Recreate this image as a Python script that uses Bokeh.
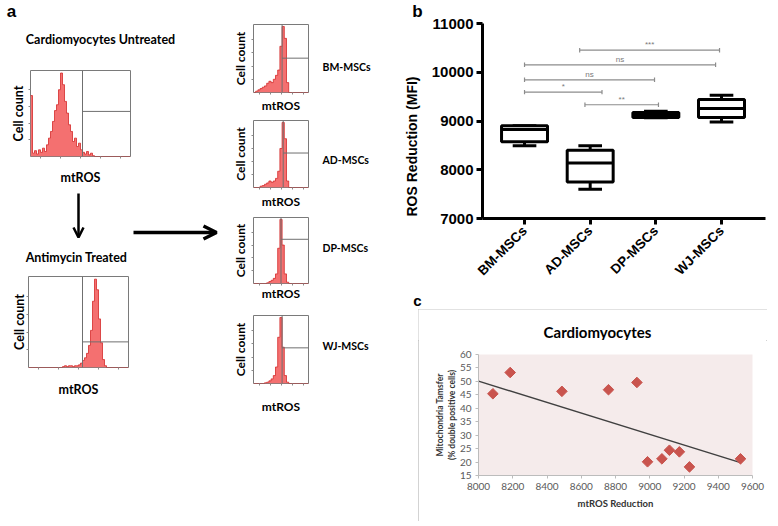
import math
import numpy as np
from bokeh.plotting import figure
from bokeh.layouts import row, column
from bokeh.models import Range1d, FixedTicker, Arrow, OpenHead, Spacer
from bokeh.core.properties import value
from bokeh.embed import file_html
from bokeh.resources import INLINE

# ---------------- data ----------------
# panel a: flow-cytometry histograms (relative cell count per bin across the mtROS axis)
untreated_counts = [0.73, 0.04, 0.07, 0.03, 0.08, 0.05, 0.10, 0.06, 0.14, 0.22,
                    0.30, 0.42, 0.55, 0.62, 0.80, 1.00, 0.86, 0.66, 0.52, 0.38,
                    0.30, 0.18, 0.22, 0.12, 0.16, 0.08, 0.05, 0.03, 0.06, 0.02,
                    0.04, 0.01, 0, 0, 0, 0, 0, 0, 0, 0,
                    0, 0, 0, 0, 0, 0, 0, 0, 0, 0]
antimycin_counts = [0, 0, 0, 0, 0, 0, 0, 0, 0, 0,
                    0, 0, 0, 0, 0, 0, 0, 0.01, 0.02, 0.01,
                    0.02, 0.02, 0.01, 0.02, 0.02, 0.03, 0.05, 0.08, 0.11, 0.16,
                    0.25, 0.42, 0.75, 1.00, 0.88, 0.55, 0.28, 0.09, 0.02, 0,
                    0, 0, 0, 0, 0, 0, 0, 0, 0, 0]
untreated_gate = [0.52, 0.54]
antimycin_gate = [0.54, 0.29]

msc_names = ["BM-MSCs", "AD-MSCs", "DP-MSCs", "WJ-MSCs"]
bm_counts = [0, 0.02, 0.04, 0.06, 0.08, 0.10, 0.14, 0.17, 0.15, 0.20, 0.26, 0.34, 0.70,
             1.00, 0.82, 0.15, 0, 0, 0, 0, 0, 0, 0, 0, 0]
ad_counts = [0, 0, 0, 0.02, 0.03, 0.05, 0.07, 0.10, 0.08, 0.10, 0.14, 0.25, 0.60,
             1.00, 0.75, 0.10, 0, 0, 0, 0, 0, 0, 0, 0, 0]
dp_counts = [0, 0, 0, 0, 0, 0, 0.01, 0.03, 0.05, 0.08, 0.15, 0.55, 1.00,
             0.60, 0.15, 0.02, 0, 0, 0, 0, 0, 0, 0, 0, 0]
wj_counts = [0, 0, 0, 0, 0, 0.01, 0.02, 0.04, 0.07, 0.12, 0.25, 0.70, 1.00,
             0.55, 0.12, 0.02, 0, 0, 0, 0, 0, 0, 0, 0, 0]
small_gate_x = [0.52, 0.54, 0.50, 0.52]
small_gate_y = [0.52, 0.53, 0.69, 0.54]

# panel b: box plot of ROS reduction (MFI)
box_lower = [8490, 7601, 9065, 8981]
box_q1 = [8572, 7751, 9070, 9070]
box_median = [8825, 8141, 9118, 9256]
box_q3 = [8901, 8401, 9174, 9440]
box_upper = [8905, 8490, 9201, 9529]
b_yticks = [7000, 8000, 9000, 10000, 11000]

sig_x0 = [0.84, 0.0, 0.0, 0.0, 0.92]
sig_x1 = [2.97, 2.91, 1.98, 1.18, 2.04]
sig_y = [10452, 10153, 9845, 9593, 9333]
sig_text = ["***", "ns", "ns", "*", "**"]

# panel c: scatter with trend line
mtros_reduction = [8084, 8185, 8487, 8759, 8925, 8987, 9071, 9115, 9173, 9232, 9530]
mito_transfer = [45.4, 53.3, 46.3, 46.9, 49.6, 20.1, 21.2, 24.4, 23.8, 18.2, 21.2]
trend_x = [8000, 9530]
trend_y = [50.1, 19.8]
c_xticks = [8000, 8200, 8400, 8600, 8800, 9000, 9200, 9400, 9600]
c_yticks = [15, 20, 25, 30, 35, 40, 45, 50, 55, 60]

# ---------------- styles ----------------
FILL = "#f47070"
EDGE = "#d42a2a"
LATO = "Lato"
ARIAL = "Liberation Sans"


def base_fig(w, h, bl, br, bt, bb, xr, yr, **kw):
    p = figure(width=w, height=h, x_range=xr, y_range=yr,
               output_backend="svg", toolbar_location=None, frame_align=False,
               min_border_left=bl, min_border_right=br,
               min_border_top=bt, min_border_bottom=bb, **kw)
    p.grid.visible = False
    p.background_fill_color = "white"
    p.border_fill_color = "white"
    return p


def canvas(w, h, x0, y0):
    """A blank drawing area whose frame fills the whole figure (picture-pixel ranges)."""
    p = figure(width=w, height=h, x_range=Range1d(x0, x0 + w), y_range=Range1d(y0 + h, y0),
               x_axis_type=None, y_axis_type=None, output_backend="svg",
               toolbar_location=None, frame_align=False, min_border_left=0,
               min_border_right=0, min_border_top=0, min_border_bottom=0)
    p.grid.visible = False
    p.outline_line_color = None
    p.background_fill_color = "white"
    p.border_fill_color = "white"
    return p


def ctext(p, x, y, text, size, font=LATO, bold=True, color="black",
          align="center", angle=0.0):
    p.text(x=[x], y=[y], text=[text], text_font=value(font), text_font_size=value(size),
           text_font_style="bold" if bold else "normal", text_color=color,
           text_align=align, text_baseline="middle", angle=angle)


def hist_fig(w, h, ref_left, ref_top, frame_left, frame_top, fw, fh, counts, gx, gy,
             ylab_standoff, xlab_standoff, lab_size="12.5px"):
    bl = frame_left - ref_left
    bt = frame_top - ref_top
    p = base_fig(w, h, bl, w - bl - fw, bt, h - bt - fh, Range1d(0, 1), Range1d(0, 1.03))
    n = len(counts)
    edges = np.linspace(0, 1, n + 1)
    c = np.append(np.array(counts, dtype=float), 0.0)
    p.varea_step(x=edges, y1=np.zeros(n + 1), y2=c, step_mode="after", fill_color=FILL)
    p.step(x=edges, y=c, mode="after", line_color=EDGE, line_width=0.8)
    p.segment(x0=[gx, gx], y0=[0, gy], x1=[gx, 1], y1=[1.03, gy],
              line_color="#6f6f6f", line_width=1)
    p.xaxis.ticker = FixedTicker(ticks=[0.1, 0.3, 0.5, 0.7, 0.9])
    p.yaxis.ticker = FixedTicker(ticks=[0.2, 0.4, 0.6, 0.8])
    p.axis.major_label_text_font_size = "1px"
    p.axis.major_label_text_color = None
    p.axis.major_label_standoff = 0
    p.axis.axis_line_color = None
    p.axis.major_tick_in = 0
    p.axis.major_tick_out = 2
    p.axis.major_tick_line_color = "#8a8a8a"
    p.axis.minor_tick_line_color = None
    p.outline_line_color = "#7a7a7a"
    p.yaxis.axis_label = "Cell count"
    p.xaxis.axis_label = "mtROS"
    p.axis.axis_label_text_font = LATO
    p.axis.axis_label_text_font_style = "bold"
    p.axis.axis_label_text_font_size = lab_size
    p.axis.axis_label_text_color = "black"
    p.yaxis.axis_label_standoff = ylab_standoff
    p.xaxis.axis_label_standoff = xlab_standoff
    return p


# ---------------- panel a, left column ----------------
top_a = canvas(220, 62, 0, 0)
ctext(top_a, 11, 11, "a", "17px", font=ARIAL)
ctext(top_a, 100, 39, "Cardiomyocytes Untreated", "12.5px")

a1 = hist_fig(220, 128, 0, 62, 30, 70, 100, 86, untreated_counts, *untreated_gate,
              ylab_standoff=3, xlab_standoff=11)

arr = canvas(220, 80, 0, 190)
arr.add_layout(Arrow(end=OpenHead(size=10, line_width=2.5), x_start=78, y_start=193,
                     x_end=78, y_end=237, line_width=2.5))
arr.add_layout(Arrow(end=OpenHead(size=13, line_width=3.5), x_start=133, y_start=232,
                     x_end=216, y_end=232, line_width=3.5))
ctext(arr, 76, 257, "Antimycin Treated", "12.5px")

a2 = hist_fig(220, 252, 0, 270, 28, 276, 100, 91, antimycin_counts, *antimycin_gate,
              ylab_standoff=0, xlab_standoff=12)

col_a = column(top_a, a1, arr, a2)

# ---------------- panel a, MSC histograms ----------------
small_counts = [bm_counts, ad_counts, dp_counts, wj_counts]
fig_tops = [0, 116, 211, 303]
fig_heights = [116, 95, 92, 219]
frame_tops = [24, 120, 217, 315]
xlab_standoffs = [3, 4, 0, 13]
name_y = [66, 159, 247, 345]
small_figs = []
for i in range(4):
    p = hist_fig(95, fig_heights[i], 220, fig_tops[i], 253, frame_tops[i], 55, 68,
                 small_counts[i], small_gate_x[i], small_gate_y[i],
                 ylab_standoff=4, xlab_standoff=xlab_standoffs[i], lab_size="12px")
    small_figs.append(p)

names_canvas = canvas(88, 522, 315, 0)
for i in range(4):
    ctext(names_canvas, 322, name_y[i], msc_names[i], "10.5px", align="left")

col_b = row(column(*small_figs), names_canvas)

# ---------------- panel b: box plot ----------------
strip = canvas(23, 309, 403, 0)
ctext(strip, 417, 11, "b", "17px", font=ARIAL)
ctext(strip, 411, 146, "ROS Reduction (MFI)", "14px", font=ARIAL, angle=math.pi / 2)
ctext(strip, 417, 300, "c", "15px", font=ARIAL)

pb = base_fig(352, 309, 56, 13, 23, 91, Range1d(-0.64, 3.67), Range1d(7000, 11000))
xs = np.arange(len(msc_names))
sx0 = np.array(sig_x0)
sx1 = np.array(sig_x1)
sy = np.array(sig_y, dtype=float)
pb.segment(x0=sx0, y0=sy, x1=sx1, y1=sy, line_color="#8c8c8c", line_width=1.2)
pb.segment(x0=sx0, y0=sy - 45, x1=sx0, y1=sy + 45, line_color="#8c8c8c", line_width=1.2)
pb.segment(x0=sx1, y0=sy - 45, x1=sx1, y1=sy + 45, line_color="#8c8c8c", line_width=1.2)
pb.text(x=(sx0 + sx1) / 2, y=sy, text=sig_text, text_align="center", text_baseline="bottom",
        y_offset=-1, text_font_size="8px", text_color="#7a7a7a", text_font=value(ARIAL))

pb.segment(x0=xs, y0=box_q3, x1=xs, y1=box_upper, line_color="black", line_width=3)
pb.segment(x0=xs, y0=box_lower, x1=xs, y1=box_q1, line_color="black", line_width=3)
pb.segment(x0=xs - 0.18, y0=box_upper, x1=xs + 0.18, y1=box_upper, line_color="black", line_width=3)
pb.segment(x0=xs - 0.18, y0=box_lower, x1=xs + 0.18, y1=box_lower, line_color="black", line_width=3)
pb.quad(left=xs - 0.35, right=xs + 0.35, bottom=box_q1, top=box_q3,
        fill_color="white", line_color="black", line_width=3)
pb.segment(x0=xs - 0.35, y0=box_median, x1=xs + 0.35, y1=box_median, line_color="black", line_width=3)

pb.yaxis.ticker = FixedTicker(ticks=b_yticks)
pb.xaxis.ticker = FixedTicker(ticks=list(xs))
pb.xaxis.major_label_overrides = {int(i): n for i, n in zip(xs, msc_names)}
pb.xaxis.major_label_orientation = math.pi / 4
pb.axis.major_label_text_font = ARIAL
pb.axis.major_label_text_font_style = "bold"
pb.axis.major_label_text_color = "black"
pb.yaxis.major_label_text_font_size = "15px"
pb.xaxis.major_label_text_font_size = "13.5px"
pb.axis.axis_line_width = 3
pb.axis.axis_line_color = "black"
pb.axis.major_tick_line_width = 3
pb.axis.major_tick_line_color = "black"
pb.axis.major_tick_out = 6
pb.axis.major_tick_in = 0
pb.axis.minor_tick_line_color = None
pb.yaxis.major_label_standoff = 3
pb.xaxis.major_label_standoff = 4
pb.outline_line_color = None

# ---------------- panel c: scatter ----------------
c_title = canvas(349, 31, 418, 309)
ctext(c_title, 597, 331, "Cardiomyocytes", "15px")

pc = base_fig(349, 181, 60, 15, 14, 46, Range1d(8000, 9600), Range1d(15, 60))
pc.background_fill_color = "#f5ebeb"
pc.outline_line_color = None
pc.line(trend_x, trend_y, line_color="#404040", line_width=1.5)
pc.scatter(mtros_reduction, mito_transfer, marker="square", angle=math.pi / 4, size=7.5,
           fill_color="#c9544e", line_color="#c9544e")
pc.xaxis.ticker = FixedTicker(ticks=c_xticks)
pc.yaxis.ticker = FixedTicker(ticks=c_yticks)
pc.axis.axis_line_color = "#bcbcbc"
pc.axis.major_tick_line_color = "#bcbcbc"
pc.axis.major_tick_out = 3
pc.axis.major_tick_in = 0
pc.axis.minor_tick_line_color = None
pc.axis.major_label_text_font = LATO
pc.axis.major_label_text_font_size = "10px"
pc.axis.major_label_text_color = "#5a5a5a"
pc.axis.major_label_standoff = 4
pc.xaxis.axis_label = "mtROS Reduction"
pc.yaxis.axis_label = "Mitochondria Tamsfer\n(% double positive cells)"
pc.axis.axis_label_text_font = LATO
pc.axis.axis_label_text_font_style = "bold"
pc.axis.axis_label_text_color = "#333333"
pc.xaxis.axis_label_text_font_size = "9.5px"
pc.yaxis.axis_label_text_font_size = "8.5px"
pc.xaxis.axis_label_standoff = 5
pc.yaxis.axis_label_standoff = 0

c_box = column(c_title, pc, styles={"outline": "1px solid #c4c4c4", "outline-offset": "-1px"})
col_c = column(row(strip, pb), row(Spacer(width=15, height=212), c_box))

layout = row(col_a, col_b, col_c)
open("out.html", "w").write(file_html(layout, INLINE))
